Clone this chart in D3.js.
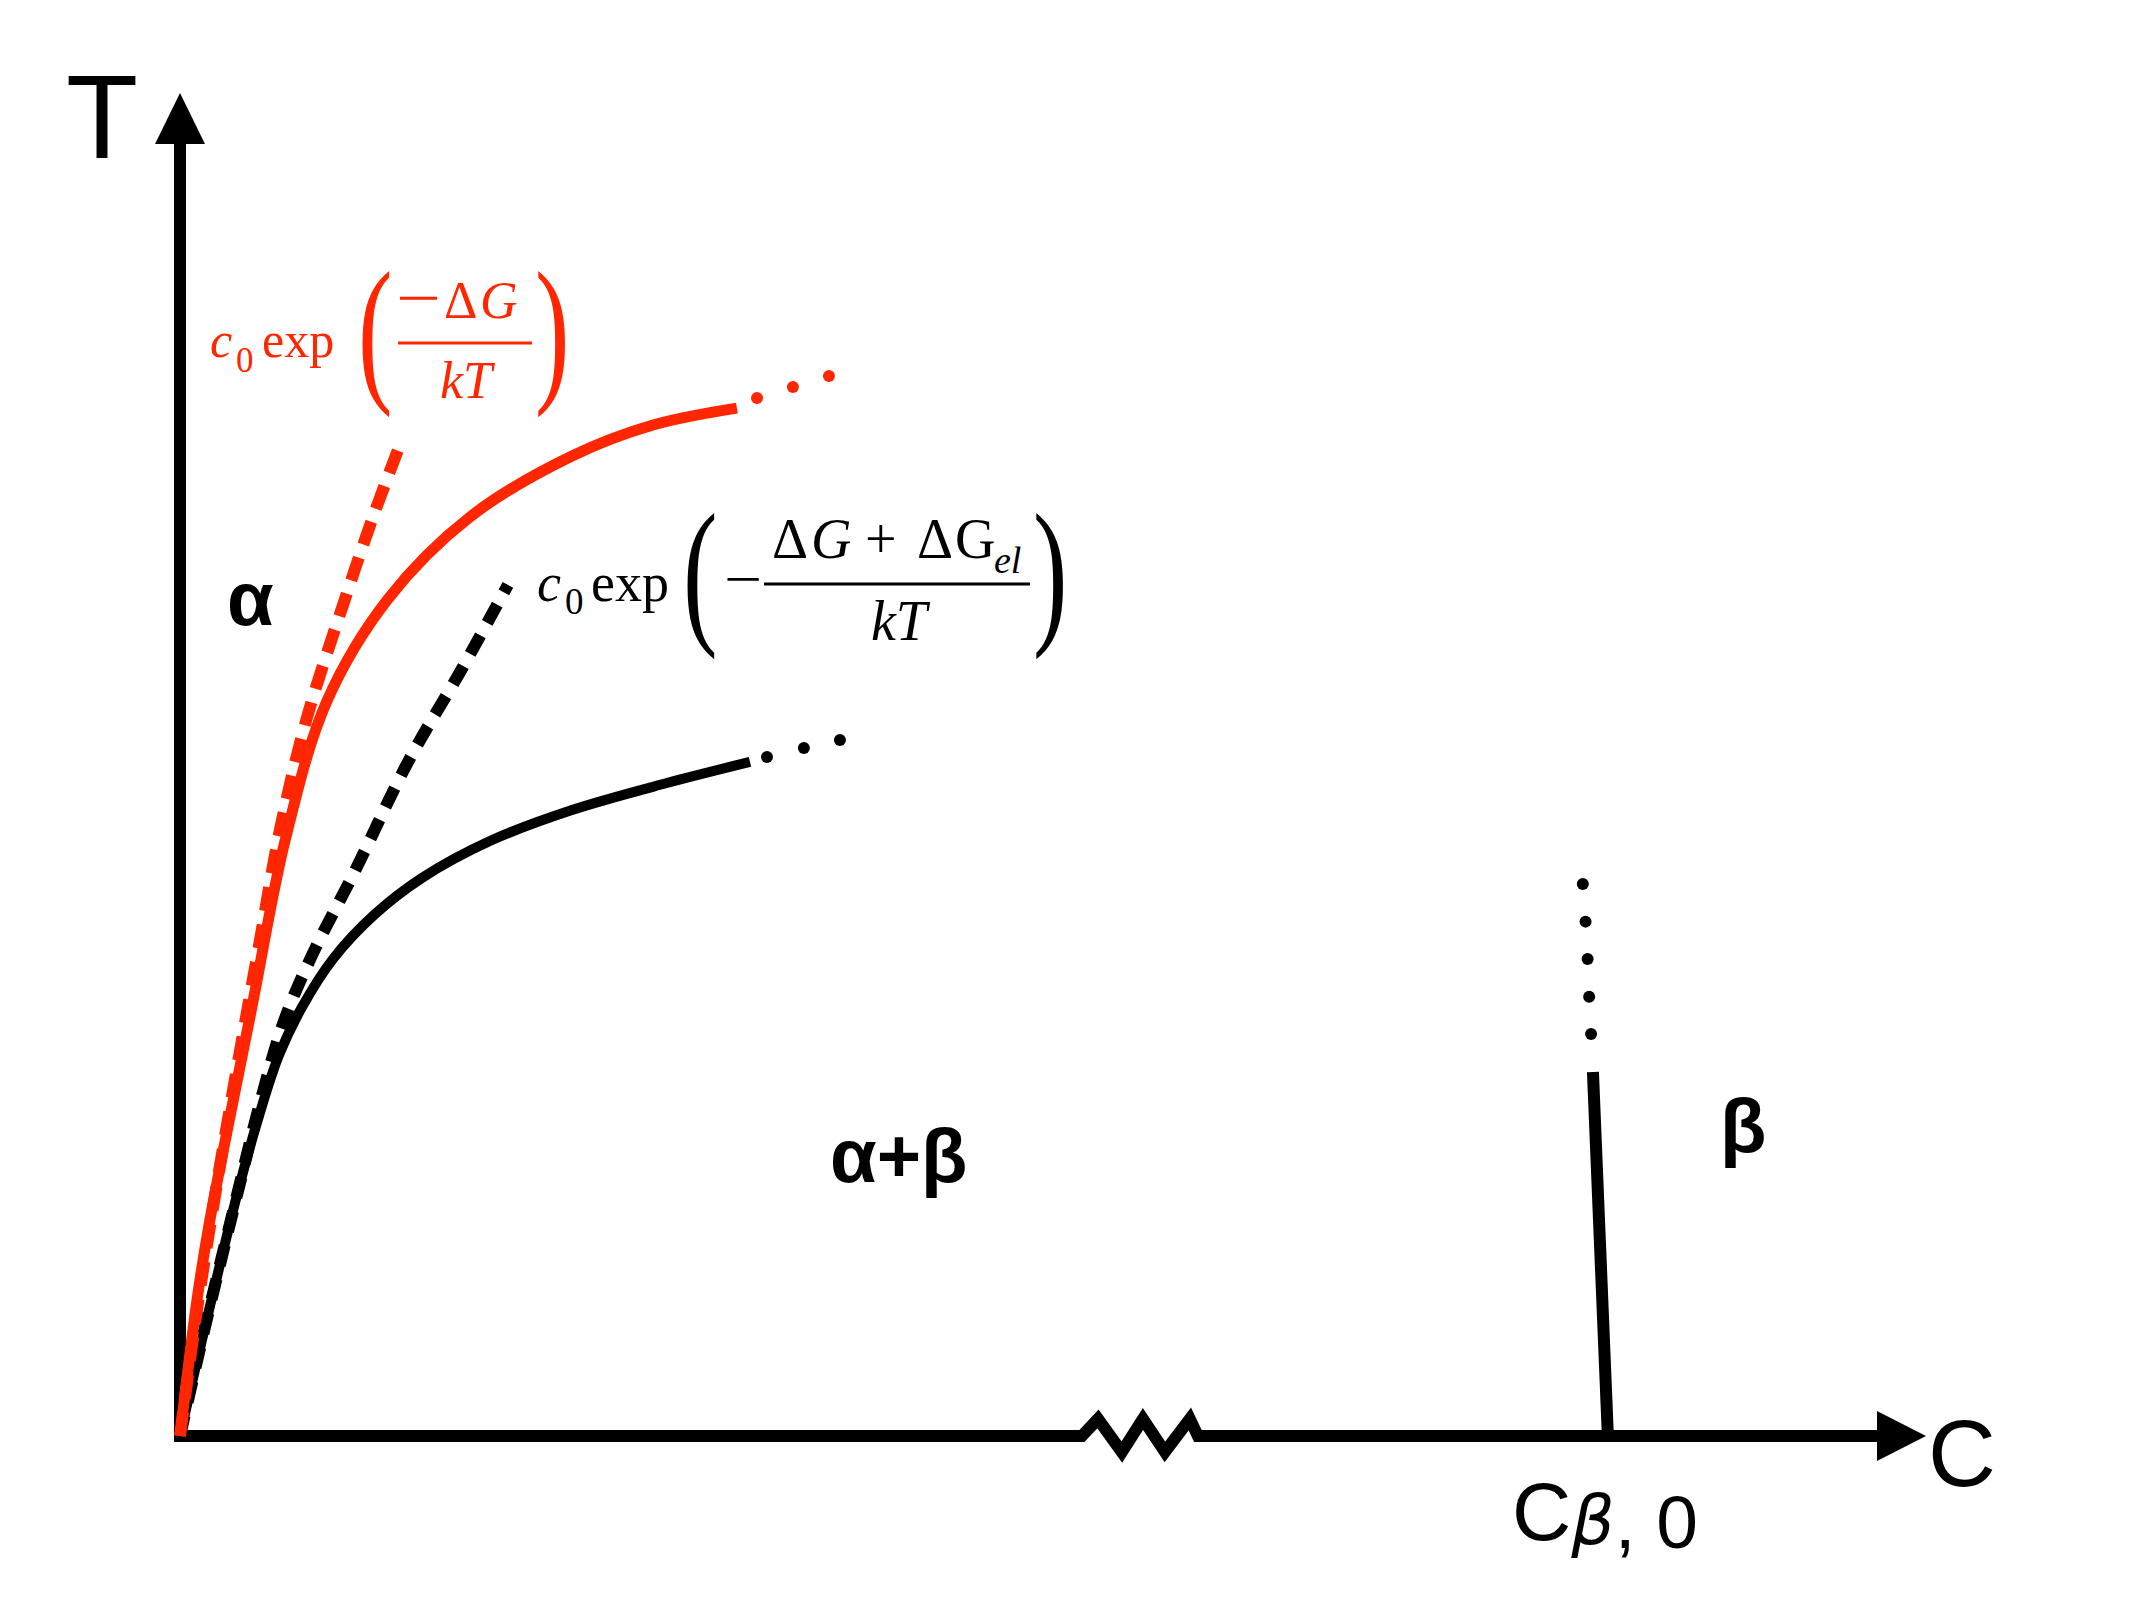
<!DOCTYPE html>
<html>
<head>
<meta charset="utf-8">
<script src="https://cdn.jsdelivr.net/npm/d3@7"></script>
<style>
  body { margin: 0; background: #fff; }
  svg { display: block; }
</style>
</head>
<body>
<svg id="phase_diagram"></svg>
<script>
// curves, axis units: C 0-100, T 0-100
const redSolid = [[0, 0], [0.99, 10.13], [1.69, 15.71], [4.19, 31.94], [6.17, 44.6], [8.56, 54.73],
  [12.11, 62.32], [16.89, 68.43], [22.83, 72.97], [27.55, 75.28], [32.44, 76.54]];
const redDots = [[33.61, 77.29], [35.7, 78.11], [37.8, 78.93]];
const redDashed = [[0, 0], [0.99, 9.38], [2.15, 18.76], [3.38, 27.85], [4.6, 36.49], [5.82, 45.12],
  [7.34, 53.24], [9.61, 62.32], [11.24, 68.43], [12.87, 74.01]];

const blackSolid = [[0, 0], [0.99, 5.58], [2.21, 12.14], [3.38, 18.24], [4.6, 23.83], [5.77, 28.37],
  [7.11, 31.94], [8.91, 35.52], [11.3, 38.79], [14.09, 41.55], [18.05, 44.3], [22.83, 46.61],
  [28.36, 48.62], [33.2, 50.19]];
const blackDots = [[34.19, 50.56], [36.34, 51.23], [38.44, 51.82]];
const blackDashed = [[0, 0], [0.99, 5.58], [2.21, 12.14], [3.38, 18.24], [4.66, 24.8], [6.06, 30.9],
  [7.75, 35.96], [10.19, 42.07], [13.28, 50.19], [16.48, 57.26], [19.1, 63.37]];

// beta solvus and its dotted continuation
const betaLine = [[82.3, 27.1], [83.17, 0]];
const betaDots = [[81.71, 41.1], [81.87, 38.3], [81.99, 35.52], [82.08, 32.71], [82.19, 29.93]];

// axis break (zigzag) on the C axis, axis ends
const axisBreak = [[52.53, 0], [53.47, 1.27], [54.86, -1.19], [56.09, 1.27], [57.37, -1.19], [58.82, 1.27], [59.29, 0]];
const cMax = 101.7, tMax = 100;

const regionLabels = [
  { text: "α", x: 227, y: 625 },
  { text: "α+β", x: 830, y: 1182 },
  { text: "β", x: 1720, y: 1152 }
];

const RED = "#ff2600";
const SERIF = "'Liberation Serif', 'Times New Roman', serif";
const SANS = "'Liberation Sans', Arial, Helvetica, sans-serif";

let width = 2134,
  height = 1600;
let svg = d3.select("#phase_diagram").attr("width", width).attr("height", height);

let x = d3.scaleLinear().domain([0, cMax]).range([180, 1926]);
let y = d3.scaleLinear().domain([0, tMax]).range([1436, 93]);

let line = d3.line()
  .x((d) => x(d[0]))
  .y((d) => y(d[1]));
let smooth = d3.line()
  .x((d) => x(d[0]))
  .y((d) => y(d[1]))
  .curve(d3.curveCatmullRom.alpha(0.5));

// axes
let arrowLen = 49, arrowHalf = 25;
svg.append("path")
  .attr("d", line([[0, 0], ...axisBreak, [x.invert(x(cMax) - arrowLen + 2), 0]]))
  .attr("fill", "none").attr("stroke", "#000").attr("stroke-width", 12)
  .attr("stroke-linejoin", "miter");
svg.append("line")
  .attr("x1", x(0)).attr("y1", y(0) + 6)
  .attr("x2", x(0)).attr("y2", y(tMax) + arrowLen)
  .attr("stroke", "#000").attr("stroke-width", 12);
svg.append("path")
  .attr("d", `M${x(cMax)},${y(0)} L${x(cMax) - arrowLen},${y(0) - arrowHalf} L${x(cMax) - arrowLen},${y(0) + arrowHalf} Z`)
  .attr("fill", "#000");
svg.append("path")
  .attr("d", `M${x(0)},${y(tMax)} L${x(0) - arrowHalf},${y(tMax) + arrowLen + 2} L${x(0) + arrowHalf},${y(tMax) + arrowLen + 2} Z`)
  .attr("fill", "#000");

// curves
svg.append("path").attr("d", smooth(blackDashed))
  .attr("fill", "none").attr("stroke", "#000").attr("stroke-width", 12).attr("stroke-dasharray", "21,14");
svg.append("path").attr("d", smooth(blackSolid))
  .attr("fill", "none").attr("stroke", "#000").attr("stroke-width", 10);
svg.append("path").attr("d", smooth(redDashed))
  .attr("fill", "none").attr("stroke", RED).attr("stroke-width", 12).attr("stroke-dasharray", "24,14");
svg.append("path").attr("d", smooth(redSolid))
  .attr("fill", "none").attr("stroke", RED).attr("stroke-width", 11);

svg.append("path").attr("d", line(betaLine))
  .attr("fill", "none").attr("stroke", "#000").attr("stroke-width", 12);

function dots(data, color) {
  svg.selectAll(null).data(data).enter().append("circle")
    .attr("cx", (d) => x(d[0])).attr("cy", (d) => y(d[1]))
    .attr("r", 6).attr("fill", color);
}
dots(redDots, RED);
dots(blackDots, "#000");
dots(betaDots, "#000");

// axis titles
svg.append("text").attr("x", 66).attr("y", 158)
  .attr("font-family", SANS).attr("font-size", 118).text("T");
svg.append("text").attr("x", 1928).attr("y", 1486)
  .attr("font-family", SANS).attr("font-size", 94).text("C");
let cb = svg.append("text").attr("x", 1512).attr("y", 1540).attr("font-family", SANS);
cb.append("tspan").attr("font-size", 82).text("C");
cb.append("tspan").attr("font-size", 68).attr("font-style", "italic").attr("dy", 4)
  .attr("font-family", "'DejaVu Sans', sans-serif").text("β");
cb.append("tspan").attr("font-size", 75).attr("dy", 4).text(", 0");

// region labels
svg.selectAll(null).data(regionLabels).enter().append("text")
  .attr("x", (d) => d.x).attr("y", (d) => d.y)
  .attr("font-family", SANS).attr("font-weight", "bold").attr("font-size", 76)
  .text((d) => d.text);

// formulas
function put(parent, px, py, str, size, opts = {}) {
  let t = parent.append("text")
    .attr("x", px).attr("y", py)
    .attr("font-family", opts.family || SERIF)
    .attr("font-size", size)
    .attr("font-style", opts.italic ? "italic" : "normal")
    .attr("text-anchor", opts.anchor || "start")
    .text(str);
  if (opts.len) t.attr("textLength", opts.len).attr("lengthAdjust", "spacingAndGlyphs");
  return t;
}
function paren(parent, ch, px, top) {
  // stretched glyph, top of glyph at `top`
  parent.append("text")
    .attr("transform", `translate(${px},${top + 109.5}) scale(1.15,1.8)`)
    .attr("font-family", SERIF).attr("font-size", 90)
    .text(ch);
}

let fr = svg.append("g").attr("fill", RED);
put(fr, 210, 357, "c", 50, { italic: true });
put(fr, 236, 372, "0", 35);
put(fr, 262, 357, "exp", 50);
paren(fr, "(", 358, 273);
put(fr, 396, 318, "−", 60, { len: 45 });
put(fr, 444, 318, "Δ", 52);
put(fr, 480, 318, "G", 52, { italic: true });
fr.append("rect").attr("x", 398).attr("y", 341.5).attr("width", 134).attr("height", 3);
put(fr, 466, 398, "kT", 52, { italic: true, anchor: "middle" });
paren(fr, ")", 535, 273);

let fb = svg.append("g").attr("fill", "#000");
put(fb, 537, 601, "c", 54, { italic: true });
put(fb, 565, 614, "0", 37);
put(fb, 591, 601, "exp", 54);
paren(fb, "(", 683, 515);
put(fb, 724, 598, "−", 56, { len: 38 });
fb.append("rect").attr("x", 764).attr("y", 582.5).attr("width", 266).attr("height", 3);
put(fb, 772, 558, "Δ", 56);
put(fb, 811, 558, "G", 56, { italic: true });
put(fb, 865, 558, "+", 56);
put(fb, 917, 558, "Δ", 56);
put(fb, 955, 558, "G", 56);
put(fb, 994, 573, "el", 38, { italic: true });
put(fb, 899, 640, "kT", 56, { italic: true, anchor: "middle" });
paren(fb, ")", 1033, 515);
</script>
</body>
</html>
